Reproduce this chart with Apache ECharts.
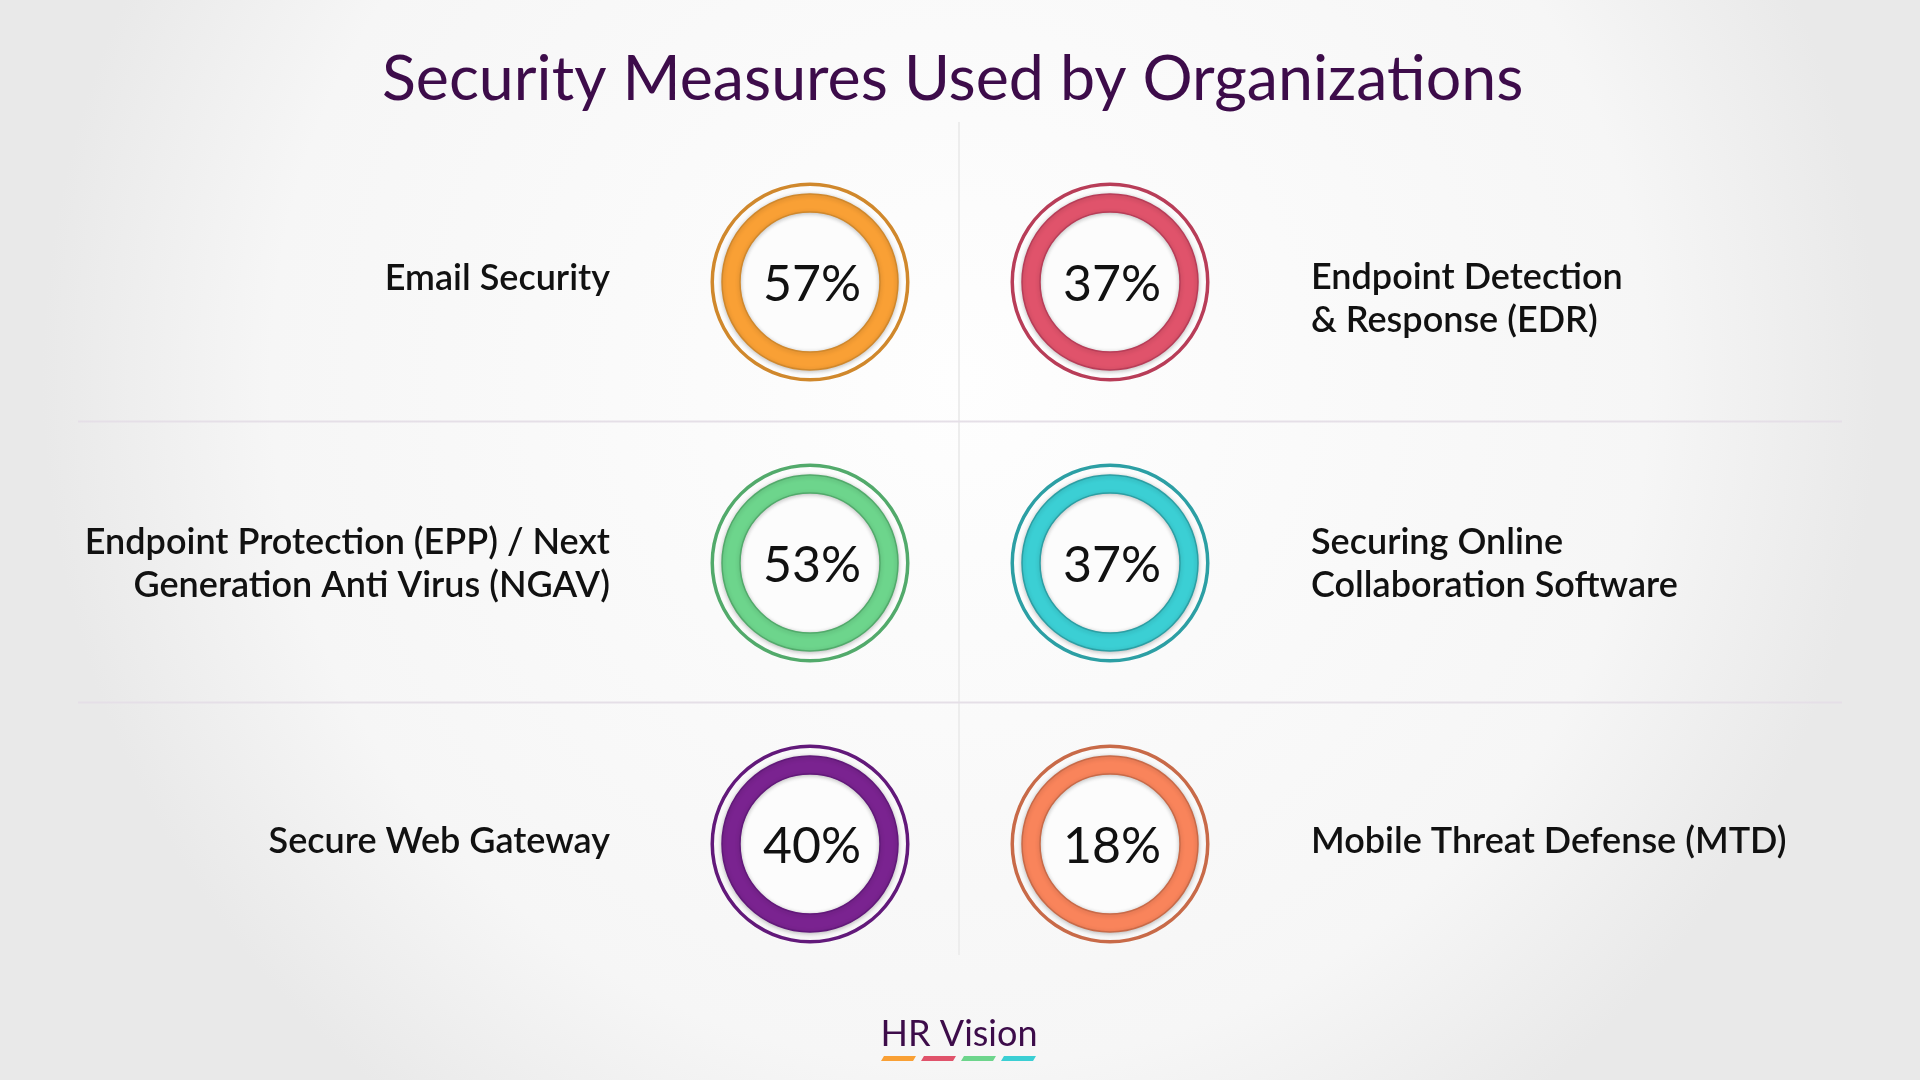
<!DOCTYPE html>
<html>
<head>
<meta charset="utf-8">
<title>Security Measures Used by Organizations</title>
<script src="https://cdn.jsdelivr.net/npm/echarts@6/dist/echarts.min.js"></script>
<style>
  html, body { margin: 0; padding: 0; width: 100%; height: 100%; overflow: hidden; }
  #chart { width: 1920px; height: 1080px; }
</style>
</head>
<body>
<div id="chart"></div>
<script>
const titleText = 'Security Measures Used by Organizations';
const brandText = 'HR Vision';
// row by row: left column, right column
const measures = [
    'Email Security',
    'Endpoint Detection\n& Response (EDR)',
    'Endpoint Protection (EPP) / Next\nGeneration Anti Virus (NGAV)',
    'Securing Online\nCollaboration Software',
    'Secure Web Gateway',
    'Mobile Threat Defense (MTD)',
];
const shares = [57, 37, 53, 37, 40, 18];
const ringColors = ['#f9a035', '#e0536b', '#6dd58c', '#3bcfd4', '#7a2390', '#f9845b'];
const edgeColors = ['#d0882c', '#b83d58', '#52aa6b', '#2c9fa4', '#62197a', '#c86a48'];
const brandColors = ['#f9a035', '#e0536b', '#6dd58c', '#3bcfd4'];

let chartDom = document.getElementById('chart');
let myChart = echarts.init(chartDom, null, { renderer: 'canvas' });

// layout
const colX = [810, 1110];
const rowY = [282, 563, 844];
const labelAnchorY = [278, 299, 564, 564, 841, 841];
const font = 'Lato, "Open Sans", sans-serif';

let series = [];
let graphics = [];

measures.forEach((name, i) =>
{
    let col = i % 2;
    let row = Math.floor(i / 2);
    let center = [colX[col], rowY[row]];
    // outer thin ring
    series.push({
        type: 'pie',
        silent: true,
        center: center,
        radius: [96, 99.5],
        label: { show: false },
        labelLine: { show: false },
        itemStyle: { color: edgeColors[i] },
        data: [{ value: shares[i], name: name }],
    });
    // inner disc
    series.push({
        type: 'pie',
        silent: true,
        center: center,
        radius: [0, 70],
        label: { show: false },
        labelLine: { show: false },
        itemStyle: { color: '#fcfcfc' },
        data: [{ value: shares[i], name: name }],
    });
    // thick ring with the value
    series.push({
        type: 'pie',
        silent: true,
        center: center,
        radius: [70, 88],
        labelLine: { show: false },
        itemStyle: {
            color: ringColors[i],
            borderColor: edgeColors[i],
            borderWidth: 1.5,
            shadowBlur: 4,
            shadowColor: 'rgba(0,0,0,0.22)',
            shadowOffsetY: 1,
        },
        label: {
            show: true,
            position: 'center',
            formatter: '{c}%',
            fontFamily: font,
            fontSize: 50,
            offset: [2, 3],
            color: '#111111',
        },
        data: [{ value: shares[i], name: name }],
    });
    // category label
    graphics.push({
        type: 'text',
        x: col === 0 ? 610 : 1311,
        y: labelAnchorY[i],
        style: {
            text: name,
            fill: '#111111',
            font: '600 36px ' + font,
            lineHeight: 43,
            align: col === 0 ? 'right' : 'left',
            verticalAlign: 'middle',
        },
    });
});

// divider lines
graphics.push(
    { type: 'line', shape: { x1: 78, y1: 421.5, x2: 1842, y2: 421.5 }, style: { stroke: '#e5dfe7', lineWidth: 2 }, z: -1 },
    { type: 'line', shape: { x1: 78, y1: 702.5, x2: 1842, y2: 702.5 }, style: { stroke: '#e5dfe7', lineWidth: 2 }, z: -1 },
    { type: 'line', shape: { x1: 959, y1: 122, x2: 959, y2: 955 }, style: { stroke: '#ededed', lineWidth: 2 }, z: -2 }
);

// brand mark
graphics.push({
    type: 'text',
    x: 959,
    y: 1034,
    style: {
        text: brandText,
        fill: '#3d0c4a',
        font: '36px ' + font,
        align: 'center',
        verticalAlign: 'middle',
    },
});
brandColors.forEach((c, k) =>
{
    let x0 = 882 + k * 40;
    graphics.push({
        type: 'polygon',
        shape: { points: [[x0 + 2, 1056], [x0 + 34, 1056], [x0 + 31, 1061], [x0 - 1, 1061]] },
        style: { fill: c },
    });
});

myChart.setOption({
    animation: false,
    backgroundColor: {
        type: 'radial',
        x: 0.5, y: 0.35, r: 0.85,
        colorStops: [
            { offset: 0, color: '#fefefe' },
            { offset: 0.75, color: '#f6f6f6' },
            { offset: 1, color: '#e9e9e9' },
        ],
    },
    title: {
        text: titleText,
        left: 377,
        top: 43,
        textStyle: {
            fontFamily: font,
            fontSize: 62.7,
            fontWeight: 'normal',
            color: '#3d0c4a',
        },
    },
    graphic: graphics,
    series: series,
});
</script>
</body>
</html>
